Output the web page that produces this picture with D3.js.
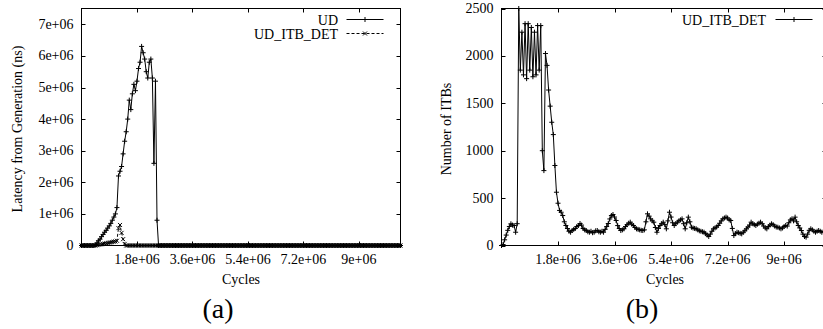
<!DOCTYPE html>
<html>
<head>
<meta charset="utf-8">
<script src="https://cdn.jsdelivr.net/npm/d3@7"></script>
<style>
  body { margin: 0; background: #fff; }
</style>
</head>
<body>
<svg id="chart" width="823" height="329" font-family="'Liberation Serif', 'Times New Roman', Times, serif"></svg>
<script>
// samples are taken every 50k cycles
const cycleStep = 50000;
const cycleMax = 10.35e6;
const totalSamples = 208;

const xTickValues = [1.8e6, 3.6e6, 5.4e6, 7.2e6, 9e6];
const xTickLabels = ["1.8e+06", "3.6e+06", "5.4e+06", "7.2e+06", "9e+06"];
const latencyTickValues = [0, 1e6, 2e6, 3e6, 4e6, 5e6, 6e6, 7e6];
const latencyTickLabels = ["0", "1e+06", "2e+06", "3e+06", "4e+06", "5e+06", "6e+06", "7e+06"];
const itbTickValues = [0, 500, 1000, 1500, 2000, 2500];
const itbTickLabels = ["0", "500", "1000", "1500", "2000", "2500"];

// (a) latency in units of 1e6 ns, samples after these are all 0
const udLatency = [0, 0, 0, 0, 0, 0, 0, 0, 0, 0.02, 0.08, 0.15, 0.2, 0.28, 0.35, 0.42, 0.48, 0.55,
  0.62, 0.7, 0.8, 0.9, 1.0, 1.2, 2.2, 2.35, 2.5, 2.9, 3.3, 3.6, 4.0, 4.6, 4.3, 4.8, 5.1, 4.9, 5.2,
  5.6, 5.8, 6.3, 6.1, 5.9, 5.5, 5.3, 5.8, 5.9, 5.3, 2.6, 5.2, 0.8, 0];
const itbDetLatency = [0, 0, 0, 0, 0, 0, 0, 0, 0, 0, 0.01, 0.02, 0.03, 0.04, 0.05, 0.06, 0.07, 0.08,
  0.09, 0.1, 0.11, 0.12, 0.13, 0.15, 0.55, 0.65, 0.4, 0.2, 0.05, 0];

// (b) number of ITBs
const itbCount = [0, 10, 60, 110, 160, 200, 229, 215, 211, 140, 230, 2500, 1850, 2250, 1800, 2340,
  1760, 2340, 1850, 2300, 1780, 2250, 1800, 2320, 1850, 2320, 1000, 790, 2025, 1900, 1640, 1470,
  1300, 1170, 844, 562, 446, 370, 351, 316, 250, 211, 179, 150, 140, 158, 170, 179, 200, 211, 232,
  215, 179, 165, 158, 145, 140, 150, 135, 140, 155, 158, 145, 140, 150, 140, 170, 200, 232, 280,
  316, 327, 300, 264, 210, 179, 158, 165, 176, 200, 220, 235, 246, 225, 211, 190, 176, 170, 165,
  160, 158, 165, 250, 334, 310, 281, 260, 246, 190, 140, 180, 211, 230, 246, 220, 176, 260, 351,
  300, 240, 211, 230, 246, 260, 270, 281, 230, 176, 240, 299, 250, 193, 185, 180, 176, 165, 155,
  150, 145, 140, 125, 110, 95, 120, 150, 176, 185, 195, 211, 235, 260, 281, 290, 299, 290, 270,
  264, 180, 105, 125, 140, 135, 128, 123, 140, 155, 176, 195, 215, 246, 230, 220, 211, 225, 235,
  246, 230, 205, 185, 176, 200, 215, 229, 220, 205, 195, 193, 185, 176, 185, 200, 211, 205, 240,
  270, 281, 260, 299, 250, 211, 185, 158, 120, 95, 88, 120, 160, 176, 165, 150, 140, 150, 158,
  150, 140, 145, 150];

const svg = d3.select("#chart");

function toSeries(values, scale) {
    let out = [];
    for (let i = 0; i < totalSamples; i++) {
        let v = i < values.length ? values[i] : 0;
        out.push({ x: i * cycleStep, y: v * scale });
    }
    return out;
}

const plusPath = "M-2.5,0H2.5M0,-2.5V2.5";
const crossPath = "M-2,-2L2,2M-2,2L2,-2";

function drawPanel(p) {
    let g = svg.append("g");
    let x = d3.scaleLinear().domain([0, cycleMax]).range([p.left, p.right]);
    let y = d3.scaleLinear().domain(p.yDomain).range([p.bottom, p.top]);

    let clipId = "clip" + p.id;
    svg.append("clipPath").attr("id", clipId)
        .append("rect")
        .attr("x", p.left - 4).attr("y", p.top - 4)
        .attr("width", p.right - p.left + 8).attr("height", p.bottom - p.top + 8);

    // frame
    g.append("rect")
        .attr("x", p.left).attr("y", p.top)
        .attr("width", p.right - p.left).attr("height", p.bottom - p.top)
        .attr("fill", "none").attr("stroke", "#000").attr("stroke-width", 1);

    // x ticks on bottom and mirrored on top
    xTickValues.forEach((t, i) => {
        let px = Math.round(x(t)) + 0.5;
        g.append("line").attr("x1", px).attr("x2", px).attr("y1", p.bottom).attr("y2", p.bottom - 4).attr("stroke", "#000");
        g.append("line").attr("x1", px).attr("x2", px).attr("y1", p.top).attr("y2", p.top + 4).attr("stroke", "#000");
        g.append("text").attr("x", x(t)).attr("y", p.bottom + 18)
            .attr("text-anchor", "middle").style("font-size", "14px").text(xTickLabels[i]);
    });

    // y ticks on left and mirrored on right
    p.yTicks.forEach((t, i) => {
        let py = Math.round(y(t)) + 0.5;
        g.append("line").attr("x1", p.left).attr("x2", p.left + 4).attr("y1", py).attr("y2", py).attr("stroke", "#000");
        g.append("line").attr("x1", p.right).attr("x2", p.right - 4).attr("y1", py).attr("y2", py).attr("stroke", "#000");
        g.append("text").attr("x", p.left - 8).attr("y", y(t) + 4.5)
            .attr("text-anchor", "end").style("font-size", "14px").text(p.yTickLabels[i]);
    });

    let line = d3.line().x(d => x(d.x)).y(d => y(d.y));
    let plot = g.append("g").attr("clip-path", "url(#" + clipId + ")");

    p.series.forEach(s => {
        plot.append("path")
            .datum(s.data)
            .attr("d", line)
            .attr("fill", "none")
            .attr("stroke", "#000")
            .attr("stroke-width", 1)
            .attr("stroke-dasharray", s.dash || null);
        plot.selectAll(null)
            .data(s.data)
            .enter().append("path")
            .attr("transform", d => "translate(" + x(d.x) + "," + y(d.y) + ")")
            .attr("d", s.marker)
            .attr("stroke", "#000")
            .attr("stroke-width", 1);
    });

    // legend, right aligned at the top right
    p.series.forEach((s, i) => {
        let ly = p.legendY + i * 14;
        g.append("text").attr("x", p.legendTextX).attr("y", ly + 5)
            .attr("text-anchor", "end").style("font-size", "14px").text(s.name);
        g.append("line").attr("x1", p.legendLineX).attr("x2", p.legendLineX + 37)
            .attr("y1", ly).attr("y2", ly)
            .attr("stroke", "#000").attr("stroke-dasharray", s.dash || null);
        g.append("path").attr("transform", "translate(" + (p.legendLineX + 18.5) + "," + ly + ")")
            .attr("d", s.marker).attr("stroke", "#000");
    });

    // axis titles
    g.append("text")
        .attr("transform", "translate(" + p.yTitleX + "," + ((p.top + p.bottom) / 2 + 2) + ") rotate(-90)")
        .attr("text-anchor", "middle").style("font-size", "14px").text(p.yTitle);
    g.append("text").attr("x", p.centerX).attr("y", 284)
        .attr("text-anchor", "middle").style("font-size", "14px").text("Cycles");
    g.append("text").attr("x", p.captionX).attr("y", 318)
        .attr("text-anchor", "middle").style("font-size", "28px").text(p.caption);
}

drawPanel({
    id: "a", left: 81.5, right: 400.5, top: 8.5, bottom: 245.5,
    yDomain: [0, 7.5e6], yTicks: latencyTickValues, yTickLabels: latencyTickLabels,
    yTitle: "Latency from Generation (ns)", yTitleX: 22, centerX: 241, captionX: 218, caption: "(a)",
    legendY: 19.5, legendTextX: 338, legendLineX: 346.5,
    series: [
        { name: "UD", data: toSeries(udLatency, 1e6), marker: plusPath },
        { name: "UD_ITB_DET", data: toSeries(itbDetLatency, 1e6), marker: crossPath, dash: "3,2" }
    ]
});

drawPanel({
    id: "b", left: 501.5, right: 826.5, top: 8.5, bottom: 245.5,
    yDomain: [0, 2500], yTicks: itbTickValues, yTickLabels: itbTickLabels,
    yTitle: "Number of ITBs", yTitleX: 451, centerX: 665, captionX: 642, caption: "(b)",
    legendY: 19.5, legendTextX: 766, legendLineX: 775.5,
    series: [
        { name: "UD_ITB_DET", data: toSeries(itbCount, 1), marker: plusPath }
    ]
});
</script>
</body>
</html>
